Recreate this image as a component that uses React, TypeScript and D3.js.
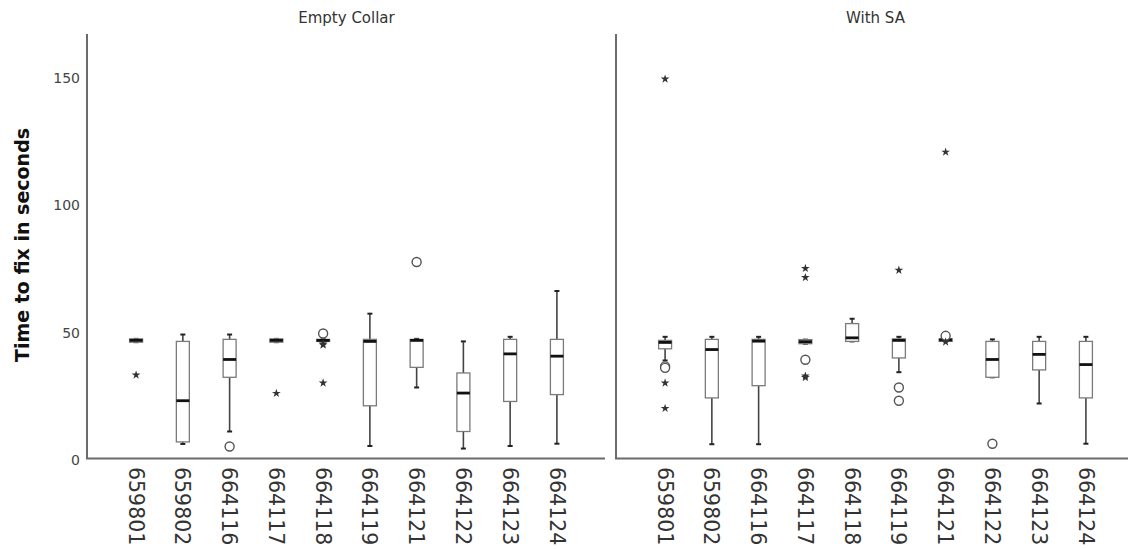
import React from 'react';
import * as d3 from 'd3';

const categories = ['659801', '659802', '664116', '664117', '664118', '664119', '664121', '664122', '664123', '664124'];
const panelTitles = ['Empty Collar', 'With SA'];
const yTicks = [0, 50, 100, 150];
const yTitle = 'Time to fix in seconds';

// Empty Collar
const emptyWhiskerLow = [46.3, 6.3, 11.2, 46.3, 46.6, 5.5, 28.5, 4.5, 5.5, 6.4];
const emptyQ1 = [46.3, 7.1, 32.5, 46.3, 46.6, 21.3, 36.4, 11.2, 23.0, 25.7];
const emptyMedian = [47, 23.3, 39.5, 47, 47, 46.6, 47.0, 26.3, 41.7, 40.8];
const emptyQ3 = [47.6, 46.6, 47.4, 47.6, 47.4, 47.4, 47.4, 34.2, 47.4, 47.4];
const emptyWhiskerHigh = [47.6, 49.3, 49.3, 47.6, 47.4, 57.5, 47.6, 46.6, 48.4, 66.4];
const emptyCircles = [[], [], [5.3], [], [49.7], [], [77.8], [], [], []];
const emptyStars = [[33.4], [], [], [26.2], [45.6, 45.2, 30.3], [], [], [], [], []];

// With SA
const withWhiskerLow = [39.1, 6.2, 6.2, 45.7, 46.6, 34.5, 46.6, 32.5, 22.2, 6.4];
const withQ1 = [43.7, 24.4, 29.2, 45.7, 46.6, 40.1, 46.6, 32.5, 35.4, 24.4];
const withMedian = [46.2, 43.4, 46.7, 46.5, 48, 47, 47.2, 39.5, 41.5, 37.5];
const withQ3 = [47, 47.4, 47.4, 47.3, 53.6, 47.6, 47.6, 46.6, 46.6, 46.6];
const withWhiskerHigh = [48.4, 48.4, 48.4, 47.3, 55.5, 48.4, 47.6, 47.4, 48.4, 48.4];
const withCircles = [[36.8, 36.2], [], [], [39.4], [], [28.5, 23.3], [48.8], [6.4], [], []];
const withStars = [[149.7, 30.3, 20.3], [], [], [75.3, 71.7, 33.0, 32.4], [], [74.6], [121, 46.4], [], [], []];

const panelData = [
  { low: emptyWhiskerLow, q1: emptyQ1, med: emptyMedian, q3: emptyQ3, high: emptyWhiskerHigh, circles: emptyCircles, stars: emptyStars },
  { low: withWhiskerLow, q1: withQ1, med: withMedian, q3: withQ3, high: withWhiskerHigh, circles: withCircles, stars: withStars },
];

const W = 1128;
const H = 549;
const panelX0 = [87, 616];
const panelW = 519;
const top = 34;
const font = 'DejaVu Sans, Verdana, sans-serif';

const y = d3.scaleLinear().domain([0, 167]).range([460, 35]);
const axisY = 458.5;
const starPath = d3.symbol().type(d3.symbolStar).size(24)() as string;

export default function App() {
  const boxW = 13;
  const capW = 5;
  return (
    <svg width={W} height={H} style={{ position: 'absolute', left: 0, top: 0, background: '#fff' }}>
      <rect width={W} height={H} fill="#fff" />
      <text
        transform={`translate(29,245) rotate(-90)`}
        textAnchor="middle"
        fontFamily={font}
        fontWeight="bold"
        fontSize={19}
        fill="#111"
      >
        {yTitle}
      </text>
      {yTicks.map((t) => (
        <text key={t} x={80} y={y(t)} dy="0.35em" textAnchor="end" fontFamily={font} fontSize={14} fill="#444">
          {t}
        </text>
      ))}
      {panelData.map((p, pi) => {
        const x0 = panelX0[pi];
        const x = d3.scalePoint<string>().domain(categories).range([x0, x0 + panelW]).padding(1.05);
        return (
          <g key={pi}>
            <text x={x0 + panelW / 2} y={23} textAnchor="middle" fontFamily={font} fontSize={15} fill="#333">
              {panelTitles[pi]}
            </text>
            <line x1={x0} x2={x0} y1={top} y2={axisY} stroke="#6b6b6b" strokeWidth={2} />
            <line x1={x0 - 1} x2={x0 + panelW - 1} y1={axisY} y2={axisY} stroke="#6b6b6b" strokeWidth={2} />
            {categories.map((c, i) => {
              const cx = x(c) as number;
              return (
                <g key={c}>
                  <line x1={cx} x2={cx} y1={y(p.high[i])} y2={y(p.q3[i])} stroke="#444" strokeWidth={1.6} />
                  <line x1={cx} x2={cx} y1={y(p.q1[i])} y2={y(p.low[i])} stroke="#444" strokeWidth={1.6} />
                  <line x1={cx - capW / 2} x2={cx + capW / 2} y1={y(p.high[i])} y2={y(p.high[i])} stroke="#222" strokeWidth={2} />
                  <line x1={cx - capW / 2} x2={cx + capW / 2} y1={y(p.low[i])} y2={y(p.low[i])} stroke="#222" strokeWidth={2} />
                  <rect
                    x={cx - boxW / 2}
                    y={y(p.q3[i])}
                    width={boxW}
                    height={Math.max(1, y(p.q1[i]) - y(p.q3[i]))}
                    fill="#fff"
                    stroke="#7a7a7a"
                    strokeWidth={1.3}
                  />
                  <line x1={cx - boxW / 2} x2={cx + boxW / 2} y1={y(p.med[i])} y2={y(p.med[i])} stroke="#111" strokeWidth={2.8} />
                  {p.circles[i].map((v, k) => (
                    <circle key={'c' + k} cx={cx} cy={y(v)} r={4.5} fill="#fff" stroke="#555" strokeWidth={1.4} />
                  ))}
                  {p.stars[i].map((v, k) => (
                    <path key={'s' + k} d={starPath} transform={`translate(${cx},${y(v)})`} fill="#333" />
                  ))}
                  <text
                    transform={`translate(${cx},467) rotate(90)`}
                    dy="0.36em"
                    textAnchor="start"
                    fontFamily={font}
                    fontSize={20.5}
                    fill="#333"
                  >
                    {c}
                  </text>
                </g>
              );
            })}
          </g>
        );
      })}
    </svg>
  );
}
